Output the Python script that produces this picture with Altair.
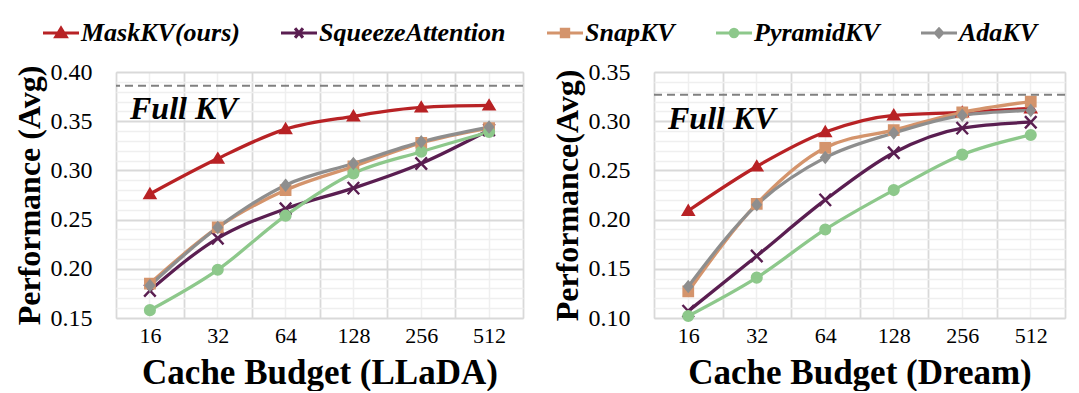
import altair as alt
import pandas as pd

budgets = ["16", "32", "64", "128", "256", "512"]
methods = ["MaskKV(ours)", "SqueezeAttention", "SnapKV", "PyramidKV", "AdaKV"]
colors = ["#B82225", "#5A1E51", "#D4946C", "#8DC88B", "#8E8E8E"]

# LLaDA panel
llada_maskkv = [0.276, 0.312, 0.342, 0.355, 0.364, 0.366]
llada_squeeze = [0.178, 0.231, 0.261, 0.282, 0.307, 0.341]
llada_snapkv = [0.185, 0.242, 0.280, 0.304, 0.328, 0.343]
llada_pyramid = [0.158, 0.199, 0.254, 0.297, 0.319, 0.339]
llada_adakv = [0.183, 0.242, 0.285, 0.307, 0.329, 0.344]
llada_full = 0.386

# Dream panel
dream_maskkv = [0.209, 0.254, 0.289, 0.306, 0.309, 0.313]
dream_squeeze = [0.107, 0.163, 0.220, 0.268, 0.293, 0.299]
dream_snapkv = [0.127, 0.216, 0.273, 0.291, 0.309, 0.320]
dream_pyramid = [0.102, 0.141, 0.190, 0.230, 0.266, 0.286]
dream_adakv = [0.132, 0.215, 0.263, 0.288, 0.306, 0.311]
dream_full = 0.327

llada_ticks = [0.15, 0.20, 0.25, 0.30, 0.35, 0.40]
dream_ticks = [0.10, 0.15, 0.20, 0.25, 0.30, 0.35]

FONT = "Liberation Serif"
SYM = 1296  # 36px symbol box

# markers drawn inside the 36px box
marker_paths = [
    "M0,-0.27L0.29,0.22L-0.29,0.22Z",
    "M-0.32,-0.34L0.32,0.34M-0.32,0.34L0.32,-0.34",
    "M-0.26,-0.26H0.26V0.26H-0.26Z",
    "M-0.27,0A0.27,0.27,0,1,0,0.27,0A0.27,0.27,0,1,0,-0.27,0Z",
    "M0,-0.27L0.22,0L0,0.27L-0.22,0Z",
]
# legend keys: a line segment with the marker on it
legend_paths = ["M-1,0H1" + p for p in [
    "M0,-0.26L0.28,0.2L-0.28,0.2Z",
    "M-0.22,-0.26L0.22,0.26M-0.22,0.26L0.22,-0.26",
    "M-0.2,-0.2H0.2V0.2H-0.2Z",
    "M-0.2,0A0.2,0.2,0,1,0,0.2,0A0.2,0.2,0,1,0,-0.2,0Z",
    "M0,-0.22L0.2,0L0,0.22L-0.2,0Z",
]]


def long_df(series):
    rows = []
    for m, vals in zip(methods, series):
        for i, (b, v) in enumerate(zip(budgets, vals)):
            rows.append({"budget": b, "idx": i, "method": m, "value": v})
    return pd.DataFrame(rows)


LEG = alt.Legend(
    title=None, orient="none", legendX=-75, legendY=-59, direction="horizontal",
    columns=5, columnPadding=34, symbolSize=SYM, symbolStrokeWidth=3.2,
    symbolOpacity=1, labelOffset=0, labelFont=FONT, labelFontSize=26,
    labelFontStyle="italic", labelFontWeight="bold", labelColor="black",
    labelLimit=400,
)

color_scale = alt.Scale(domain=methods, range=colors)
legend_shape_scale = alt.Scale(domain=methods, range=legend_paths)


def panel(series, ticks, full, text_y, ytitle, xtitle, width):
    df = long_df(series)
    lo, hi = ticks[0], ticks[-1]
    minor = [round(lo + i * 0.01, 2) for i in range(1, int(round((hi - lo) / 0.01)))]
    minor = [v for v in minor if round(v * 100) % 5 != 0]
    xs = alt.Scale(type="band", paddingInner=0, paddingOuter=0, domain=budgets)
    ys = alt.Scale(domain=[lo, hi], nice=False, zero=False)
    xplain = alt.X("budget:O", scale=xs, bandPosition=0.5, axis=None)
    yplain = alt.Y("value:Q", scale=ys, axis=None)

    base = alt.Chart(df)

    minor_layer = base.mark_point(opacity=0).encode(
        x=alt.X("budget:O", scale=xs, bandPosition=0.5,
                axis=alt.Axis(orient="bottom", title=None, labels=False, ticks=False,
                              domain=False, grid=True, gridColor="#efefef",
                              gridWidth=1.5, tickBand="center")),
        y=alt.Y("value:Q", scale=ys,
                axis=alt.Axis(orient="left", title=None, labels=False, ticks=False,
                              domain=False, grid=True, gridColor="#efefef",
                              gridWidth=1.5, values=minor)),
    )

    lines = base.mark_line(strokeWidth=3.3, interpolate="monotone").encode(
        x=alt.X("budget:O", scale=xs, bandPosition=0.5,
                axis=alt.Axis(orient="bottom", title=xtitle, labelAngle=0,
                              tickBand="extent", grid=True, gridColor="#d9d9d9",
                              gridWidth=1.8, ticks=False, tickSize=0, domain=False,
                              labelFont=FONT, labelFontSize=22, labelColor="black",
                              labelPadding=7, titleFont=FONT, titleFontSize=35,
                              titleFontWeight="bold", titleColor="black",
                              titlePadding=9)),
        y=alt.Y("value:Q", scale=ys,
                axis=alt.Axis(orient="left", title=ytitle, values=ticks, format=".2f",
                              grid=True, gridColor="#d9d9d9", gridWidth=1.8,
                              ticks=False, tickSize=0, domain=False,
                              labelFont=FONT, labelFontSize=24, labelColor="black",
                              labelPadding=24, titleFont=FONT, titleFontSize=32,
                              titleFontWeight="bold", titleColor="black",
                              titlePadding=4)),
        color=alt.Color("method:N", scale=color_scale, legend=LEG),
        order=alt.Order("idx:Q"),
    )

    # invisible layer that carries the legend keys
    legend_layer = base.mark_point(opacity=0, size=SYM).encode(
        x=xplain, y=yplain,
        shape=alt.Shape("method:N", scale=legend_shape_scale, legend=LEG),
        fill=alt.Fill("method:N", scale=color_scale, legend=LEG),
        stroke=alt.Stroke("method:N", scale=color_scale, legend=LEG),
    )

    marker_layers = []
    for m, path in zip(methods, marker_paths):
        marker_layers.append(
            base.transform_filter(alt.datum.method == m).mark_point(
                shape=path, size=SYM, strokeWidth=2.4, opacity=1
            ).encode(
                x=xplain, y=yplain,
                fill=alt.Fill("method:N", scale=color_scale, legend=LEG),
                stroke=alt.Stroke("method:N", scale=color_scale, legend=LEG),
            )
        )

    rule = alt.Chart(pd.DataFrame({"v": [full]})).mark_rule(
        color="#808080", strokeWidth=2, strokeDash=[8, 5]
    ).encode(y=alt.Y("v:Q", scale=ys, axis=None))

    text = alt.Chart(pd.DataFrame({"t": ["Full KV"], "b": [budgets[0]], "v": [text_y]})).mark_text(
        align="left", baseline="middle", font=FONT, fontSize=32, fontStyle="italic",
        fontWeight="bold", color="black", dx=14
    ).encode(
        x=alt.X("b:O", scale=xs, bandPosition=0, axis=None),
        y=alt.Y("v:Q", scale=ys, axis=None),
        text="t:N",
    )

    return alt.layer(minor_layer, lines, legend_layer, *marker_layers, rule, text).resolve_axis(
        x="independent", y="independent"
    ).properties(width=width, height=246)


left = panel([llada_maskkv, llada_squeeze, llada_snapkv, llada_pyramid, llada_adakv],
             llada_ticks, llada_full, 0.362, "Performance (Avg)",
             "Cache Budget (LLaDA)", 407)
right = panel([dream_maskkv, dream_squeeze, dream_snapkv, dream_pyramid, dream_adakv],
              dream_ticks, dream_full, 0.302, "Performance(Avg)",
              "Cache Budget (Dream)", 411)

chart = alt.hconcat(left, right, spacing=25).resolve_scale(
    x="independent", y="independent", color="shared", fill="shared",
    stroke="shared", shape="shared"
).properties(
    padding={"left": 4, "top": 5, "right": 4, "bottom": 0}
).configure_view(stroke="black", strokeWidth=2.2).configure(background="white")

chart.save("out.html", embed_options={"renderer": "svg", "actions": False})
